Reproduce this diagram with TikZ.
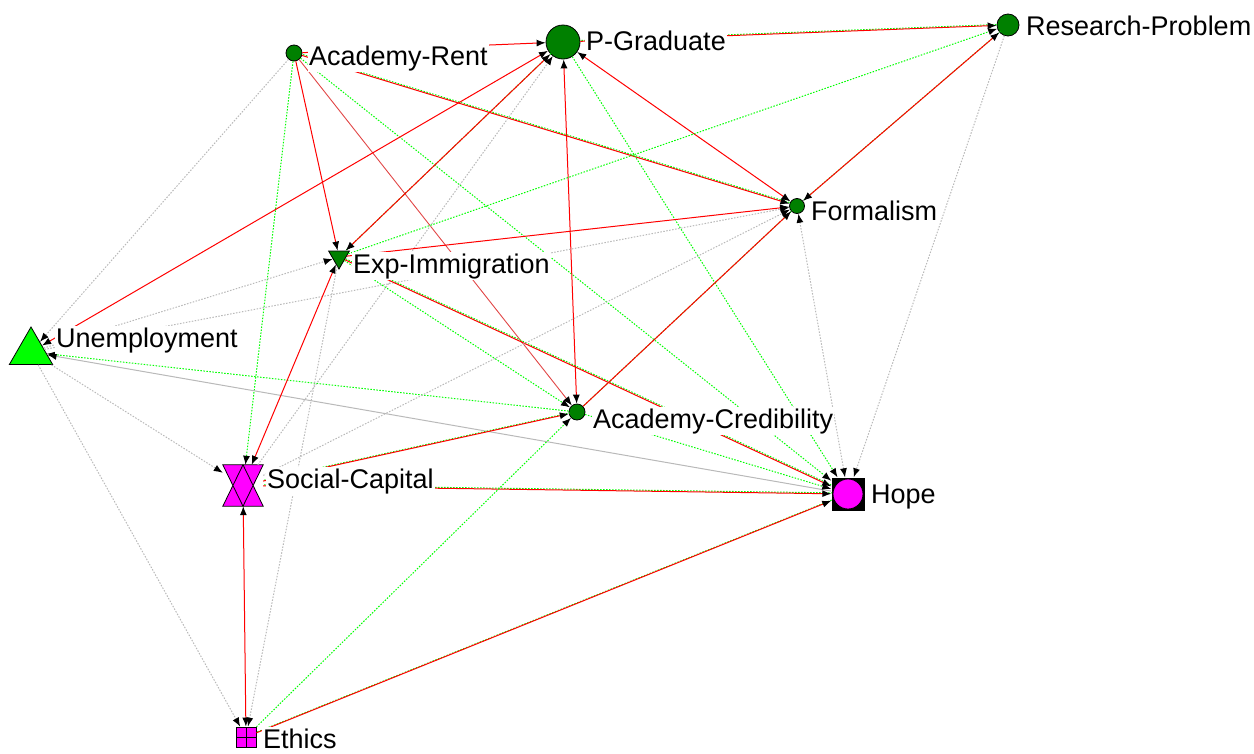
\documentclass[tikz,border=0pt]{standalone}
\usepackage{fontspec}
\setmainfont{Liberation Sans}
\usetikzlibrary{arrows.meta,shapes.geometric}
\definecolor{netgreen}{RGB}{0,128,0}
\definecolor{netlime}{RGB}{0,255,0}
\definecolor{netpink}{RGB}{255,0,255}
\definecolor{netgray}{RGB}{185,185,185}
\definecolor{softred}{RGB}{225,70,70}
\tikzset{
  actor/.style={circle, draw=black, fill=netgreen, line width=0.8pt, inner sep=0pt},
  lbl/.style={anchor=base west, inner sep=1pt, fill=white, font=\fontsize{27}{32}\selectfont},
  tip/.style={-{Latex[length=9pt,width=7pt,color=black]}},
  twotip/.style={{Latex[length=9pt,width=7pt,color=black]}-{Latex[length=9pt,width=7pt,color=black]}},
  redlink/.style={draw=red, line width=1pt},
  greenlink/.style={draw=netlime, line width=1pt, dash pattern=on 1.5pt off 1.5pt},
  graylink/.style={draw=netgray, line width=1pt, dash pattern=on 1.5pt off 1.5pt},
}
% red and green tie drawn side by side
\newcommand\mixedlink[3][tip]{%
  \draw[greenlink, transform canvas={shift={(0.9pt,0.9pt)}}] (#2) -- (#3);
  \draw[redlink, #1] (#2) -- (#3);}
\begin{document}
\begin{tikzpicture}[x=1pt, y=-1pt]
\useasboundingbox (0,0) rectangle (1254,753);
% actors
\node[actor, minimum size=16pt] (rent) at (294,53) {};
\node[actor, minimum size=34pt] (pgrad) at (563,42) {};
\node[actor, minimum size=22pt] (resprob) at (1008,25) {};
\node[actor, minimum size=15pt] (formal) at (797,206) {};
\node[actor, minimum size=16pt] (acred) at (577,412) {};
\node[regular polygon, regular polygon sides=3, shape border rotate=180, draw, fill=netgreen,
  line width=0.8pt, minimum size=24pt, inner sep=0pt] (expimm) at (339,257) {};
\node[regular polygon, regular polygon sides=3, draw, fill=netlime,
  line width=0.8pt, minimum size=50pt, inner sep=0pt] (unemp) at (31,352) {};
\node[rectangle, minimum width=40pt, minimum height=41pt, inner sep=0pt] (social) at (243,485.5) {};
\fill[netpink] (social.north west) -- (social.north east) -- (social.south) -- cycle;
\fill[netpink] (social.south west) -- (social.south east) -- (social.north) -- cycle;
\draw[line width=0.8pt] (social.north west) -- (social.north east) -- (social.south) -- cycle
  (social.south west) -- (social.south east) -- (social.north) -- cycle;
\node[rectangle, fill=black, minimum size=33pt, inner sep=0pt] (hope) at (848,494) {};
\filldraw[fill=netpink, draw=black, line width=0.8pt] (hope) circle (15pt);
\node[rectangle, draw, fill=netpink, line width=0.8pt, minimum size=20pt, inner sep=0pt,
  path picture={\draw (path picture bounding box.north) -- (path picture bounding box.south)
    (path picture bounding box.west) -- (path picture bounding box.east);}] (ethics) at (246,737) {};
% ties
\draw[redlink, tip] (rent) -- (pgrad);
\mixedlink{pgrad}{resprob}
\mixedlink{rent}{formal}
\draw[redlink, tip] (rent) -- (expimm);
\draw[greenlink, tip] (rent) -- (social);
\draw[graylink, tip] (rent) -- (unemp);
\draw[draw=softred, line width=0.9pt, tip] (rent) -- (acred);
\draw[greenlink, tip] (rent) -- (hope);
\draw[redlink, twotip] (unemp) -- (pgrad);
\mixedlink[twotip]{expimm}{pgrad}
\draw[graylink, tip] (social) -- (pgrad);
\draw[redlink, twotip] (pgrad) -- (acred);
\draw[redlink, twotip] (pgrad) -- (formal);
\draw[greenlink, tip] (pgrad) -- (hope);
\draw[greenlink, tip] (expimm) -- (resprob);
\mixedlink[twotip]{formal}{resprob}
\draw[graylink, tip] (resprob) -- (hope);
\draw[graylink, tip] (unemp) -- (formal);
\draw[graylink, tip] (unemp) -- (expimm);
\draw[redlink, tip] (expimm) -- (formal);
\draw[greenlink, tip] (expimm) -- (acred);
\mixedlink{expimm}{hope}
\draw[greenlink, tip] (acred) -- (unemp);
\draw[draw=netgray, line width=1pt, tip] (hope) -- (unemp);
\draw[graylink, tip] (unemp) -- (social);
\draw[graylink, tip] (unemp) -- (ethics);
\draw[redlink, twotip] (social) -- (expimm);
\mixedlink{social}{acred}
\mixedlink{social}{hope}
\draw[graylink, tip] (social) -- (formal);
\draw[redlink, twotip] (social) -- (ethics);
\draw[graylink, tip] (expimm) -- (ethics);
\draw[greenlink, tip] (ethics) -- (acred);
\mixedlink{ethics}{hope}
\draw[greenlink, tip] (acred) -- (hope);
\mixedlink{acred}{formal}
\draw[graylink, twotip] (formal) -- (hope);
% labels
\node[lbl] (rent-l) at (308,65) {Academy-Rent};
\node[lbl] (pgrad-l) at (585,50) {P-Graduate};
\node[lbl] (resprob-l) at (1025,35) {Research-Problem};
\node[lbl] (formal-l) at (810,220) {Formalism};
\node[lbl] (expimm-l) at (352,273) {Exp-Immigration};
\node[lbl] (unemp-l) at (55,347) {Unemployment};
\node[lbl] (acred-l) at (592,428) {Academy-Credibility};
\node[lbl] (social-l) at (266,488) {Social-Capital};
\node[lbl] (hope-l) at (870,503) {Hope};
\node[lbl] (ethics-l) at (262,748) {Ethics};
\end{tikzpicture}
\end{document}
